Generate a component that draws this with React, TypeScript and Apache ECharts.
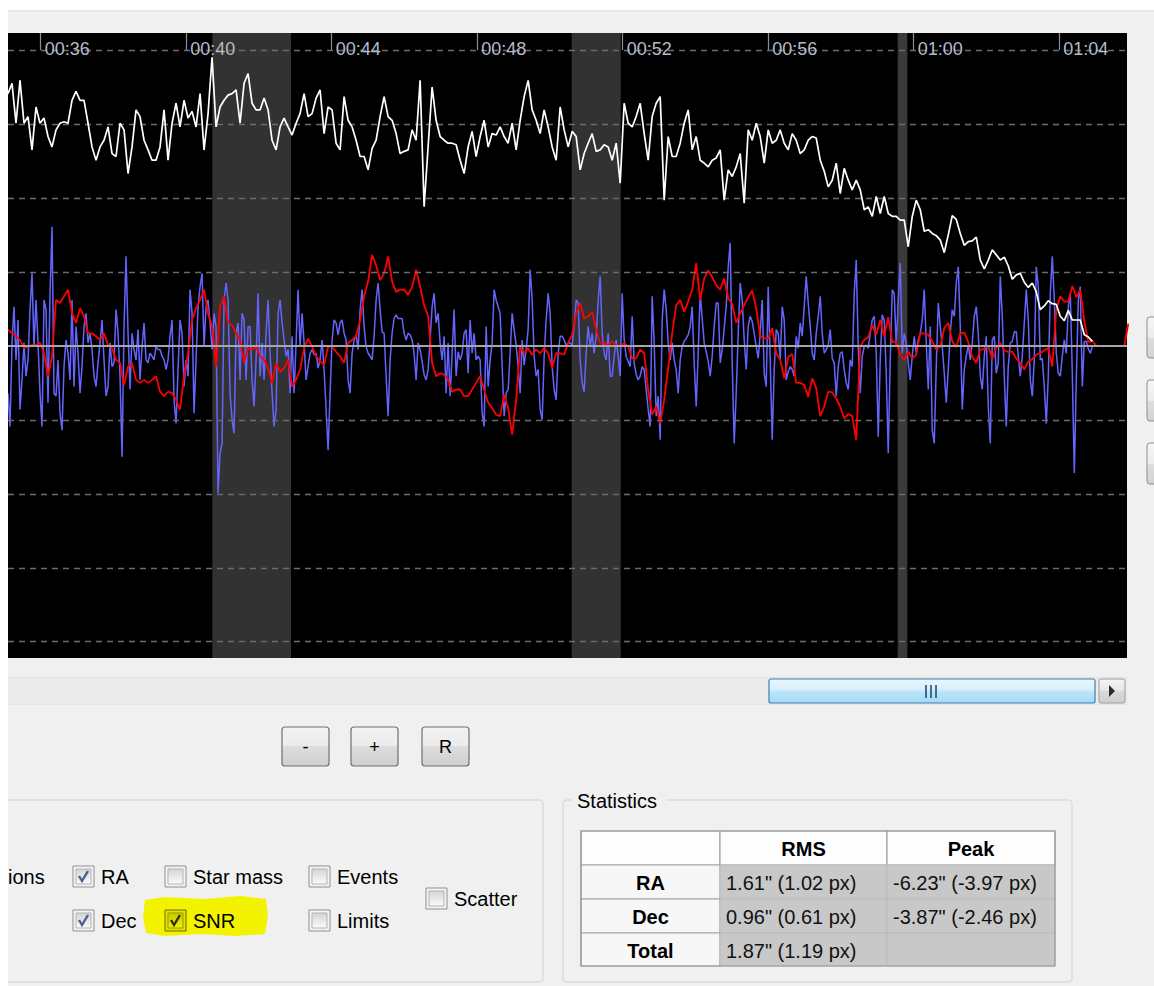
import React, { useEffect, useRef } from "react";
import * as echarts from "echarts";

// ---- time layout (minutes after 00:00) ----
const FIRST_SAMPLE_MIN = 35.1;
const RA_STEP_MIN = 0.055; // RA trace sampled twice as densely
const SAMPLE_STEP_MIN = 0.11; // Dec / SNR cadence
const VIEW_START_MIN = 35.1;
const VIEW_END_MIN = 65.864;
const TIME_TICKS = [36, 40, 44, 48, 52, 56, 60, 64];
const Y_MIN = -4.22;
const Y_MAX = 4.23;
const GRID_LEVELS = [-4, -3, -2, -1, 1, 2, 3, 4];
const BANDS: [number, number][] = [
  [40.718, 42.881],
  [50.598, 51.945],
  [59.56, 59.824],
];

// ---- guide data ----
const RA = [
  -0.64, -1.09, 0.04, 0.53, -0.19, 0.35, -0.86, -0.46, 0.04, -0.41,
  -0.19, 0.49, 0.98, -0.01, 0.62, 0.04, -0.64, -1.09, 0.62, 0.49,
  -0.77, 0.71, 1.61, -0.64, -0.68, -0.19, -0.91, -1.14, -0.28, 0.08,
  -0.1, -0.46, 0.62, -0.55, 0.26, -0.1, -0.64, -0.28, 0.26, 0.44,
  0.04, 0.17, -0.05, -0.41, -0.55, -0.23, 0.04, 0.35, -0.19, -0.68,
  -0.55, 0.04, -0.28, -0.23, 0.49, 0.17, -0.41, -1.5, 0.26, 1.21,
  0.17, -0.59, 0.17, -0.05, -0.19, 0.22, -0.46, -0.01, 0.31, -0.19,
  -0.23, -0.1, -0.14, -0.19, -0.01, -0.05, -0.05, -0.14, -0.19, -0.32,
  -0.19, 0.13, 0.35, -0.73, -1.05, -0.32, 0.35, 0.17, -0.55, -0.19,
  -0.41, 0.76, 0.44, -0.91, -0.19, 0.53, 0.8, 0.98, -0.01, 0.53,
  0.62, 0.31, -0.05, 0.44, 0.26, -1.99, -1.45, -1.32, 0.62, 0.85,
  0.62,
  -0.64, -1.0, -1.18, 0.17, 0.31, -0.46, 0.44, 0.35, -0.46, 0.26,
  0.26, -0.46, -0.82, -0.19, 0.71, -0.41, 0.04, -0.46, 0.17, 0.62,
  -0.1, -0.64, -1.09, -0.86, 0.44, 0.62, 0.31, 0.08, -0.14, -0.05,
  -0.64, 0.13, -0.64, 0.04, 0.76, -0.01, 0.44, 0.04, -0.46, -0.28,
  -0.1, -0.05, -0.12, -0.1, -0.3, -0.19, 0.08, -0.32, -0.86, -1.41,
  -0.64, 0.08, 0.35, 0.31, 0.15, 0.31, 0.35, 0.17, 0.08, -0.46,
  -0.64, -0.1, 0.08, 0.15, -0.05, 0.49, 0.76, 0.26, -0.01, -0.1,
  -0.14, -0.19, 0.13, 0.62, 0.85, 0.49, 0.19, 0.17, -0.41, -0.95,
  -0.19, 0.17, 0.37, 0.42, 0.37, 0.37, 0.37, 0.17, 0.08, 0.17,
  0.15, 0.08, -0.1, -0.46, 0.04, -0.05, -0.21, -0.39, -0.46, -0.32,
  0.08, 0.53, 0.71, 0.31, 0.44, 0.04, -0.19, 0.13, -0.64, 0.04,
  -0.68, -0.1,
  0.49, -0.41, -0.08, -0.19, -0.1, 0.17, 0.22, -0.37, 0.35, -0.1,
  0.17, -0.19, -0.14, -0.19, -0.91, -1.09, 0.26, -0.55, -0.19, 0.04,
  0.76, 0.62, 0.53, 0.44, -0.28, -0.95, -0.64, -0.59, -0.1, 0.44,
  0.22, 0.01, -0.28, -0.64, 0.08, -0.26, -0.05, 0.22, 1.03, 0.62,
  -0.14, -0.41, -0.32, -0.86, -1.0, -0.14, 0.35, 0.71, 0.44, -0.28,
  -0.59, -0.73, -0.1, 0.13, 0.13, 0.08, 0.01, 0.04, 0.04, 0.01,
  0.26, 0.62, 0.58, -0.19, -0.5, -0.62, -0.1, 0.26, -0.01, 0.17,
  -0.1, 0.13, 0.62, 0.94, 0.17, -0.1, -0.19, 0.17, -0.41, -0.41,
  -0.14, 0.08, -0.14, -0.41, 0.71, 0.08, -0.14, -0.21, -0.28, 0.4,
  -0.23, -0.39, -0.46, -0.41, -0.28, -0.32, -0.59, -0.86, -1.09, 0.67,
  0.04, -0.95, -0.68, -1.27, 0.35, 0.76, 0.49, 0.04, -0.19, 0.04,
  -0.19, -0.32,
  -0.64, -0.19, -0.01, 0.06, 0.1, 0.15, 0.26, 0.53, -0.23, -0.82,
  -0.1, 0.71, 0.37, 0.04, -0.08, -0.21, -0.41, -0.14, 0.26, 0.58,
  0.58, -0.23, -0.05, 0.24, 0.53, 1.07, 1.39, -0.23, -1.32, -0.64,
  0.17, 0.85, 0.62, 0.08, -0.32, 0.26, 0.4, 0.33, 0.17, -0.01,
  -0.17, 0.17, 0.62, -0.37, -0.55, 0.8, -0.19, -1.27, -0.32, 0.22,
  0.17, -0.19, 0.53, 0.35, -0.46, -0.35, -0.28, -0.32, -0.41, 0.13,
  -0.03, 0.31, 0.13, 0.53, 0.94, 0.58, 0.26, -0.1, -0.19, 0.17,
  0.4, 0.67, 0.17, -0.1, -0.05, 0.01, 0.22, -0.17, -0.23, -0.68,
  -0.28, -0.1, -0.08, -0.32, -0.5, -0.59, -0.19, -0.28, 0.71, 1.16,
  -0.01, -0.64, -0.14, -0.01, 0.01, -0.03, 0.17, 0.35, 0.4, -0.1,
  -1.23, -0.19, 0.42, 0.35, -0.37, -1.45, -0.19, 0.76, 0.71, -0.01,
  0.62, 1.12,
  -0.1, 0.17, 0.04, -0.23, -0.46, -0.14, 0.13, -0.1, 0.08, 0.17,
  0.35, 0.76, 0.04, -0.59, 0.26, -1.14, -1.32, -0.28, 0.58, 0.26,
  -0.01, -0.37, -0.77, -0.32, 0.17, 0.49, 0.4, 0.85, 1.07, 0.26,
  -0.86, -0.32, -0.14, 0.01, -0.19, 0.04, 0.4, 0.53, 0.17, -0.41,
  -0.59, -0.14, 0.13, -0.82, -1.32, 0.08, 0.13, -0.37, -0.23, 0.94,
  0.4, -0.41, -1.09, -0.28, 0.04, 0.06, 0.19, 0.19, -0.14, -0.41,
  -0.14, 0.31, 0.76, 0.35, -0.46, -0.68, -0.19, 1.07, 0.8, -0.19,
  -0.17, -0.55, -1.05, -0.41, 0.71, 1.21, 0.62, -0.1, -0.37, -0.41,
  -0.14, 0.08, -0.1, 0.53, 0.71, -0.37, -1.72, -0.46, 0.62, 0.8,
  -0.55, 0.06, 0.06, -0.04, -0.1, -0.01, 0.0,
];

const DEC = [
  0.22, 0.17, 0.13, 0.08, -0.03, -0.01, 0.01, 0.01, 0.04, -0.1,
  -0.41, -0.14, 0.62, 0.58, 0.67, 0.76, 0.44, 0.31, 0.51, 0.4,
  0.17, 0.17, 0.13, 0.08, 0.17, 0.01, -0.03, -0.19, -0.23, -0.53,
  -0.28, -0.23, -0.46, -0.5, -0.46, -0.5, -0.46, -0.41, -0.62, -0.68,
  -0.62, -0.64, -0.73, -0.86, -0.41, -0.1, 0.35, 0.51, 0.62, 0.76,
  0.44, 0.26, -0.28, 0.53, 0.67, 0.31,
  0.28, 0.17, 0.08, -0.23, -0.03, -0.05, -0.01, -0.14, -0.19, -0.3,
  -0.5, -0.23, -0.35, -0.3, -0.19, -0.55, -0.46, -0.32, -0.03, 0.1,
  -0.01, -0.14, -0.21, -0.26, -0.01, -0.01, -0.08, -0.14, -0.23, 0.04,
  0.08, 0.13, 0.35, 0.67, 0.87, 1.23, 1.09, 0.89, 0.98, 1.21,
  0.87, 0.73, 0.76, 0.76, 0.69, 0.8, 1.03, 0.8, 0.55, 0.4,
  -0.23, -0.41, -0.37, -0.39, -0.46, -0.62,
  -0.59, -0.59, -0.68, -0.68, -0.59, -0.5, -0.41, -0.59, -0.77, -0.84,
  -0.93, -0.95, -0.66, -0.84, -1.2, -0.73, -0.01, -0.1, -0.03, -0.12,
  -0.05, -0.1, -0.03, -0.1, -0.3, -0.1, -0.1, -0.12, 0.04, 0.15,
  0.44, 0.58, 0.37, 0.4, 0.46, 0.22, 0.04, 0.04, 0.01, 0.06,
  0.01, -0.01, 0.04, -0.01, -0.17, -0.17, -0.05, -0.1, -0.59, -0.93,
  -0.82, -1.05, -0.73, -0.3, 0.17, 0.55,
  0.62, 0.46, 0.6, 0.76, 1.12, 0.62, 0.91, 1.02, 0.93, 0.82,
  0.76, 0.91, 0.64, 0.57, 0.31, 0.44, 0.55, 0.66, 0.75, 0.51,
  0.13, 0.1, 0.1, 0.24, -0.1, -0.19, -0.44, -0.15, -0.11, -0.5,
  -0.5, -0.53, -0.69, -0.44, -0.57, -0.95, -0.82, -0.62, -0.63, -0.71,
  -0.82, -0.98, -0.92, -0.95, -1.27, -0.01, 0.08, 0.12, 0.28, 0.15,
  0.35, 0.13, 0.39, 0.05, 0.06, -0.13,
  -0.19, -0.08, -0.17, -0.12, 0.17, 0.17, 0.15, 0.06, -0.05, -0.01,
  0.24, 0.31, 0.06, -0.02, 0.17, 0.18, 0.05, -0.15, -0.23, -0.05,
  -0.04, 0.0, -0.18, -0.02, 0.04, -0.06, -0.08, -0.08, -0.17, -0.23,
  -0.32, -0.21, -0.18, -0.12, -0.1, -0.06, -0.03, -0.28, 0.49, 0.67,
  0.6, 0.6, 0.81, 0.66, 0.76, 0.33, 0.05, 0.07,
  0, 0, 0, 0, 0, 0, 0, 0, 0.3,
];

const SNR = [
  3.41, 3.55, 3.01, 3.59, 3.01, 3.1, 2.65, 3.23, 3.01, 3.08,
  2.83, 2.69, 2.92, 3.01, 3.03, 3.01, 3.32, 3.44, 3.32, 3.32,
  3.01, 2.69, 2.51, 2.69, 2.78, 2.96, 2.6, 2.56, 3.01, 2.92,
  2.33, 2.69, 3.19, 3.1, 2.78, 2.65, 2.51, 2.51, 2.69, 3.19,
  2.51, 3.01, 3.28, 2.96, 3.32, 3.08, 3.17, 2.96, 3.41, 2.65,
  3.14, 3.9, 2.96, 3.23, 3.32, 3.39,
  3.41, 3.46, 3.01, 3.55, 3.68, 3.28, 3.19, 3.19, 3.35, 3.19,
  2.78, 2.65, 2.96, 3.08, 2.96, 2.85, 3.01, 3.14, 3.41, 3.1,
  3.14, 3.35, 3.46, 2.87, 3.23, 3.19, 2.74, 2.65, 3.37, 3.05,
  2.96, 2.78, 2.56, 2.56, 2.38, 2.67, 2.78, 3.1, 3.37, 3.1,
  3.05, 2.87, 2.6, 2.63, 2.65, 2.92, 2.78, 3.59, 1.88, 2.69,
  3.5, 3.05, 2.83, 2.78, 2.74, 2.74,
  2.72, 2.51, 2.33, 2.69, 2.9, 2.56, 2.83, 3.05, 2.69, 2.87,
  2.85, 2.96, 2.83, 2.74, 3.01, 2.65, 3.05, 3.37, 3.59, 3.19,
  3.05, 2.87, 3.19, 2.96, 2.69, 2.51, 3.23, 2.92, 2.69, 2.9,
  2.83, 2.38, 2.6, 2.74, 2.87, 2.63, 2.65, 2.72, 2.69, 2.51,
  2.74, 2.2, 3.28, 3.01, 2.96, 3.1, 3.28, 2.87, 2.51, 3.1,
  3.28, 3.37, 1.97, 2.83, 2.56, 2.56,
  2.74, 3.01, 3.19, 2.65, 2.83, 2.51, 2.47, 2.42, 2.51, 2.54,
  2.65, 1.97, 2.38, 2.29, 2.42, 2.6, 1.93, 2.92, 2.78, 3.01,
  2.83, 2.47, 2.92, 2.74, 2.78, 2.92, 2.74, 2.65, 2.87, 2.78,
  2.6, 2.65, 2.78, 2.83, 2.81, 2.51, 2.36, 2.15, 2.24, 2.47,
  2.06, 2.4, 2.24, 2.11, 2.24, 2.11, 1.84, 1.88, 1.75, 2.02,
  1.79, 2.02, 1.79, 1.75, 1.75, 1.7,
  1.7, 1.34, 1.75, 1.97, 1.84, 1.55, 1.57, 1.52, 1.49, 1.43,
  1.26, 1.5, 1.76, 1.71, 1.52, 1.36, 1.41, 1.42, 1.47, 1.16,
  1.04, 1.16, 1.3, 1.23, 1.16, 1.2, 1.08, 0.9, 0.96, 0.98,
  0.86, 0.79, 0.85, 0.73, 0.49, 0.54, 0.61, 0.57, 0.56, 0.4,
  0.34, 0.48, 0.35, 0.35, 0.35, 0.15, 0.12, 0.06,
];

// ---- panel content ----
const ZOOM_BUTTONS = ["-", "+", "R"];
const CHECK_LABELS = ["RA", "Dec", "Star mass", "SNR", "Events", "Limits", "Scatter"];
const CHECK_STATES = [true, true, false, true, false, false, false];
const STAT_COLUMNS = ["RMS", "Peak"];
const STAT_ROWS = ["RA", "Dec", "Total"];
const STAT_RMS = ['1.61" (1.02 px)', '0.96" (0.61 px)', '1.87" (1.19 px)'];
const STAT_PEAK = ['-6.23" (-3.97 px)', '-3.87" (-2.46 px)', ""];

const UI = '"Liberation Sans", Arial, sans-serif';

const toPairs = (arr: number[], step: number) => arr.map((v, i) => [FIRST_SAMPLE_MIN + i * step, v]);
const pad = (n: number) => (n < 10 ? "0" + n : "" + n);
const fmtTime = (v: number) => {
  const h = Math.floor(v / 60);
  const m = Math.round(v - h * 60);
  return pad(h) + ":" + pad(m);
};

function grad(stops: [number, string][]) {
  return new echarts.graphic.LinearGradient(0, 0, 0, 1, stops.map(([offset, color]) => ({ offset, color })));
}
function rect(x: number, y: number, w: number, h: number, style: any, z = 10, r = 0) {
  return { type: "rect", shape: { x, y, width: w, height: h, r }, style, z, silent: true };
}
function txt(x: number, y: number, text: string, font: string, fill = "#000", align = "left", z = 20) {
  return {
    type: "text",
    x,
    y,
    z,
    silent: true,
    style: { text, font, fill, textAlign: align, textVerticalAlign: "middle", align, verticalAlign: "middle" },
  };
}
function ln(x1: number, y1: number, x2: number, y2: number, stroke: string, lineWidth = 1, z = 12) {
  return { type: "line", shape: { x1, y1, x2, y2 }, style: { stroke, lineWidth }, z, silent: true };
}

function buildGraphics() {
  const els: any[] = [];
  // white frame edges
  els.push(rect(0, 0, 1154, 10, { fill: "#ffffff" }, 50));
  els.push(rect(0, 10, 1154, 2, { fill: "#e3e8ee" }, 50));
  els.push(rect(0, 0, 8, 986, { fill: "#ffffff" }, 60));

  // right side buttons (partially visible)
  [317, 380, 443].forEach((y) => {
    els.push(rect(1147, y, 30, 41, { fill: grad([[0, "#f7f7f7"], [0.5, "#ececec"], [0.5, "#dedede"], [1, "#d2d2d2"]]), stroke: "#8e8e8e", lineWidth: 1 }, 10, 3));
  });

  // scrollbar
  els.push(rect(8, 677, 1119, 28, { fill: "#ebebeb" }, 8));
  els.push(ln(8, 677.5, 1127, 677.5, "#e0e0e0", 1, 9));
  els.push(ln(8, 704.5, 1127, 704.5, "#e4e4e4", 1, 9));
  els.push(
    rect(769, 679, 326, 24, {
      fill: grad([[0, "#eaf6fd"], [0.45, "#d8effc"], [0.5, "#bde5fb"], [1, "#a6d8f4"]]),
      stroke: "#3c7fb1",
      lineWidth: 1.2,
    }, 10, 2)
  );
  [926, 931, 936].forEach((x) => els.push(ln(x, 685, x, 698, "#1f4f7c", 1.6, 11)));
  els.push(rect(1099, 679, 26, 24, { fill: grad([[0, "#f4f4f4"], [0.5, "#e6e6e6"], [0.5, "#d9d9d9"], [1, "#cfcfcf"]]), stroke: "#9c9c9c", lineWidth: 1 }, 10, 2));
  els.push({ type: "polygon", shape: { points: [[1109, 685], [1115, 691], [1109, 697]] }, style: { fill: "#2a2a2a" }, z: 11, silent: true });

  // zoom buttons
  const bx = [282, 351, 422];
  ZOOM_BUTTONS.forEach((label, i) => {
    els.push(rect(bx[i], 727, 47, 39, { fill: grad([[0, "#f3f3f3"], [0.5, "#ebebeb"], [0.5, "#dddddd"], [1, "#cfcfcf"]]), stroke: "#707070", lineWidth: 1.2 }, 10, 3));
    els.push(txt(bx[i] + 23.5, 747, label, `18px ${UI}`, "#000", "center"));
  });

  // options group box
  els.push(rect(-20, 800, 563, 182, { fill: "none", stroke: "#d3dde3", lineWidth: 1.5 }, 5, 4));
  els.push(txt(8, 877, "ions", `20px ${UI}`, "#000"));

  // highlighter mark behind SNR
  els.push({
    type: "polygon",
    shape: {
      points: [[145, 900], [165, 897], [205, 899], [240, 896], [266, 899], [268, 916], [265, 934], [236, 936], [200, 934], [165, 936], [146, 933], [143, 916]],
    },
    style: { fill: "#f3f300" },
    z: 6,
    silent: true,
  });

  const cbPos = [[73, 866], [73, 910], [165, 866], [165, 910], [309, 866], [309, 910], [426, 888]];
  CHECK_LABELS.forEach((label, i) => {
    const [x, y] = cbPos[i];
    const hl = label === "SNR";
    els.push(rect(x, y, 21, 21, { fill: hl ? "#e2e200" : "#f4f4f4", stroke: hl ? "#6a6a00" : "#8e8f8f", lineWidth: 1 }, 10));
    els.push(
      rect(x + 3, y + 3, 15, 15, {
        fill: hl ? grad([[0, "#c9c900"], [1, "#efef00"]]) : grad([[0, "#d4d4d4"], [1, "#fbfbfb"]]),
        stroke: hl ? "#9a9a00" : "#b0b2b4",
        lineWidth: 1,
      }, 11)
    );
    if (CHECK_STATES[i]) {
      els.push({
        type: "polyline",
        shape: { points: [[x + 6, y + 10], [x + 9, y + 15], [x + 15, y + 5]] },
        style: { stroke: hl ? "#2d3200" : "#4a5d94", lineWidth: 2.4, fill: "none" },
        z: 12,
        silent: true,
      });
    }
    els.push(txt(x + 28, y + 11, label, `20px ${UI}`, "#000"));
  });

  // statistics group box
  els.push(rect(563, 800, 509, 182, { fill: "none", stroke: "#d3dde3", lineWidth: 1.5 }, 5, 4));
  els.push(rect(572, 790, 94, 20, { fill: "#f0f0f0" }, 6));
  els.push(txt(577, 801, "Statistics", `20px ${UI}`, "#000"));

  const cols = [581, 720, 887, 1055];
  const rows = [831, 865, 899, 933, 966];
  for (let c = 0; c < 3; c++) {
    els.push(rect(cols[c], rows[0], cols[c + 1] - cols[c], rows[1] - rows[0], { fill: "#fdfdfd", stroke: "#a3a3a3", lineWidth: 1.2 }, 10));
  }
  STAT_COLUMNS.forEach((h, i) => {
    els.push(txt((cols[i + 1] + cols[i + 2]) / 2, (rows[0] + rows[1]) / 2 + 1, h, `bold 20px ${UI}`, "#000", "center"));
  });
  STAT_ROWS.forEach((r, i) => {
    const y0 = rows[i + 1];
    const y1 = rows[i + 2];
    els.push(rect(cols[0], y0, cols[1] - cols[0], y1 - y0, { fill: "#f7f7f7", stroke: "#a3a3a3", lineWidth: 1.2 }, 10));
    els.push(rect(cols[1], y0, cols[2] - cols[1], y1 - y0, { fill: "#c8c8c8", stroke: "#bbbbbb", lineWidth: 1 }, 10));
    els.push(rect(cols[2], y0, cols[3] - cols[2], y1 - y0, { fill: "#c8c8c8", stroke: "#bbbbbb", lineWidth: 1 }, 10));
    els.push(txt((cols[0] + cols[1]) / 2, (y0 + y1) / 2 + 1, r, `bold 20px ${UI}`, "#000", "center"));
    els.push(txt(cols[1] + 6, (y0 + y1) / 2 + 1, STAT_RMS[i], `20px ${UI}`, "#111"));
    if (STAT_PEAK[i]) els.push(txt(cols[2] + 6, (y0 + y1) / 2 + 1, STAT_PEAK[i], `20px ${UI}`, "#111"));
  });
  els.push(rect(cols[0], rows[0], cols[3] - cols[0], rows[4] - rows[0], { fill: "none", stroke: "#9a9a9a", lineWidth: 1.2 }, 13));
  return els;
}

function buildOption() {
  const topLevel = GRID_LEVELS[GRID_LEVELS.length - 1];
  return {
    animation: false,
    backgroundColor: "#f0f0f0",
    grid: { left: 8, top: 33, width: 1119, height: 625, show: true, backgroundColor: "#000000", borderWidth: 0 },
    xAxis: {
      type: "value",
      position: "top",
      z: 10,
      min: VIEW_START_MIN,
      max: VIEW_END_MIN,
      axisLine: { show: false },
      splitLine: { show: false },
      axisTick: { show: false },
      axisLabel: {
        show: true,
        inside: true,
        customValues: TIME_TICKS,
        formatter: fmtTime,
        color: "#b3bcc8",
        fontSize: 18,
        fontFamily: UI,
        align: "left",
        margin: 7,
        padding: [0, 0, 0, 4],
      },
    },
    yAxis: { type: "value", min: Y_MIN, max: Y_MAX, show: false },
    series: [
      {
        name: "grid",
        type: "line",
        data: [],
        z: 1,
        silent: true,
        markArea: {
          silent: true,
          data: BANDS.map(([a, b], i) => [{ xAxis: a, itemStyle: { color: i === 2 ? "#3a3a3a" : "#323232" } }, { xAxis: b }]),
        },
        markLine: {
          silent: true,
          symbol: ["none", "none"],
          label: { show: false },
          lineStyle: { type: [6, 5], color: "#6c6c6c", width: 1.3 },
          data: [
            ...GRID_LEVELS.map((v) => ({ yAxis: v })),
            { yAxis: 0, lineStyle: { type: "solid", color: "#a6a6a6", width: 2 } },
          ],
        },
      },
      {
        name: "timeTicks",
        type: "line",
        data: [],
        z: 6,
        silent: true,
        markLine: {
          silent: true,
          symbol: ["none", "none"],
          label: { show: false },
          lineStyle: { type: "solid", color: "#8e8e8e", width: 1.2 },
          data: TIME_TICKS.map((t) => [{ coord: [t, Y_MAX] }, { coord: [t, topLevel] }]),
        },
      },
      { name: "RA", type: "line", data: toPairs(RA, RA_STEP_MIN), showSymbol: false, symbol: "none", lineStyle: { color: "#6464ff", width: 1.5 }, z: 3 },
      { name: "Dec", type: "line", data: toPairs(DEC, SAMPLE_STEP_MIN), showSymbol: false, symbol: "none", lineStyle: { color: "#ff0000", width: 1.8 }, z: 4 },
      { name: "SNR", type: "line", data: toPairs(SNR, SAMPLE_STEP_MIN), showSymbol: false, symbol: "none", lineStyle: { color: "#ffffff", width: 1.7 }, z: 5 },
    ],
    graphic: { elements: buildGraphics() },
  };
}

export default function App() {
  const ref = useRef<HTMLDivElement>(null);
  useEffect(() => {
    if (!ref.current) return;
    const chart = echarts.init(ref.current, null, { renderer: "svg" });
    chart.setOption(buildOption() as any);
    return () => chart.dispose();
  }, []);
  return <div ref={ref} style={{ position: "absolute", left: 0, top: 0, width: 1154, height: 986 }} />;
}
